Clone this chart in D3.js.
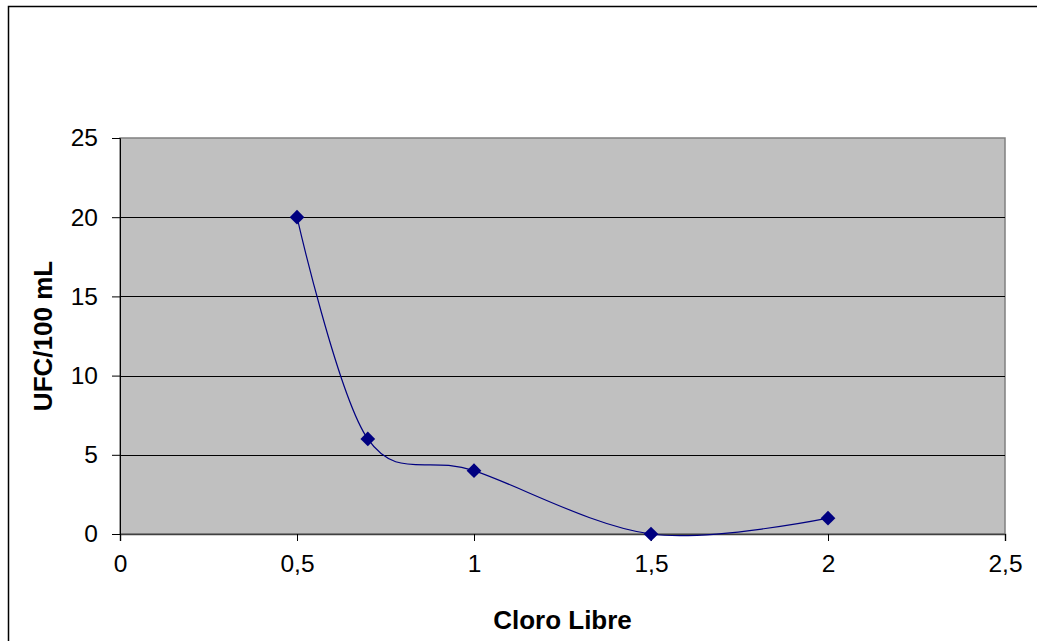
<!DOCTYPE html>
<html>
<head>
<meta charset="utf-8">
<script src="https://cdn.jsdelivr.net/npm/d3@7"></script>
<style>
  body { margin: 0; background: #fff; }
  text { font-family: "Liberation Sans", Arial, sans-serif; }
</style>
</head>
<body>
<div id="chart"></div>
<script>
// data
cloro = [0.5, 0.7, 1, 1.5, 2]
ufc = [20, 6, 4, 0, 1]
xTicks = [0, 0.5, 1, 1.5, 2, 2.5]
yTicks = [0, 5, 10, 15, 20, 25]

W = 1037, H = 641
margin = {top: 138, right: 32, bottom: 107, left: 120}
width = W - margin.left - margin.right
height = H - margin.top - margin.bottom

root = d3.select("#chart").append("svg")
  .attr("width", W)
  .attr("height", H)

// outer chart border (only left and top visible in the crop)
root.append("rect")
  .attr("x", 8.5).attr("y", 6.5)
  .attr("width", 1100).attr("height", 700)
  .attr("fill", "none")
  .attr("stroke", "#000")
  .attr("stroke-width", 1.5)

svg = root.append("g")
  .attr("transform", `translate(${margin.left}, ${margin.top})`)

x = d3.scaleLinear().domain([0, 2.5]).range([0, width])
y = d3.scaleLinear().domain([0, 25]).range([height, 0])

// plot area
svg.append("rect")
  .attr("x", 0).attr("y", 0)
  .attr("width", width).attr("height", height)
  .attr("fill", "#c0c0c0")
  .attr("stroke", "#808080")
  .attr("stroke-width", 1.5)

// gridlines
svg.append("g")
  .selectAll("line")
  .data(yTicks.filter(d => d > 0 && d < 25))
  .join("line")
    .attr("x1", 0).attr("x2", width)
    .attr("y1", d => Math.round(y(d)) + 0.5)
    .attr("y2", d => Math.round(y(d)) + 0.5)
    .attr("stroke", "#000")
    .attr("stroke-width", 1)

// x axis
gx = svg.append("g")
  .attr("transform", `translate(0, ${height})`)
  .call(d3.axisBottom(x).tickValues(xTicks).tickSize(7).tickPadding(14)
    .tickFormat(d => String(d).replace(".", ",")))
gx.select(".domain").attr("stroke", "#404040").attr("stroke-width", 1.5)
gx.selectAll(".tick line").attr("stroke", "#000")
gx.selectAll("text").style("font-size", "24.5px").attr("fill", "#000")

// y axis
gy = svg.append("g")
  .call(d3.axisLeft(y).tickValues(yTicks).tickSize(8).tickPadding(14))
gy.select(".domain").attr("stroke", "#000")
gy.selectAll(".tick line").attr("stroke", "#000")
gy.selectAll("text").style("font-size", "24.5px").attr("fill", "#000")

// axis titles
svg.append("text")
  .attr("x", x(1.25))
  .attr("y", height + 95)
  .attr("text-anchor", "middle")
  .style("font-size", "26px")
  .style("font-weight", "bold")
  .text("Cloro Libre")

svg.append("text")
  .attr("transform", `translate(${43 - margin.left}, ${height / 2}) rotate(-90)`)
  .attr("text-anchor", "middle")
  .attr("dy", "0.35em")
  .style("font-size", "26px")
  .style("font-weight", "bold")
  .text("UFC/100 mL")

data = cloro.map((c, i) => ({x: c, y: ufc[i]}))

// smoothed series line
line = d3.line()
  .x(d => x(d.x))
  .y(d => y(d.y))
  .curve(d3.curveCardinal.tension(0))

svg.append("path")
  .datum(data)
  .attr("d", line)
  .attr("fill", "none")
  .attr("stroke", "#000080")
  .attr("stroke-width", 1.2)

// diamond markers
svg.selectAll(".pt")
  .data(data)
  .join("path")
    .attr("class", "pt")
    .attr("transform", d => `translate(${x(d.x)}, ${y(d.y)}) rotate(45)`)
    .attr("d", "M-5.2,-5.2H5.2V5.2H-5.2Z")
    .attr("fill", "#000080")
</script>
</body>
</html>
